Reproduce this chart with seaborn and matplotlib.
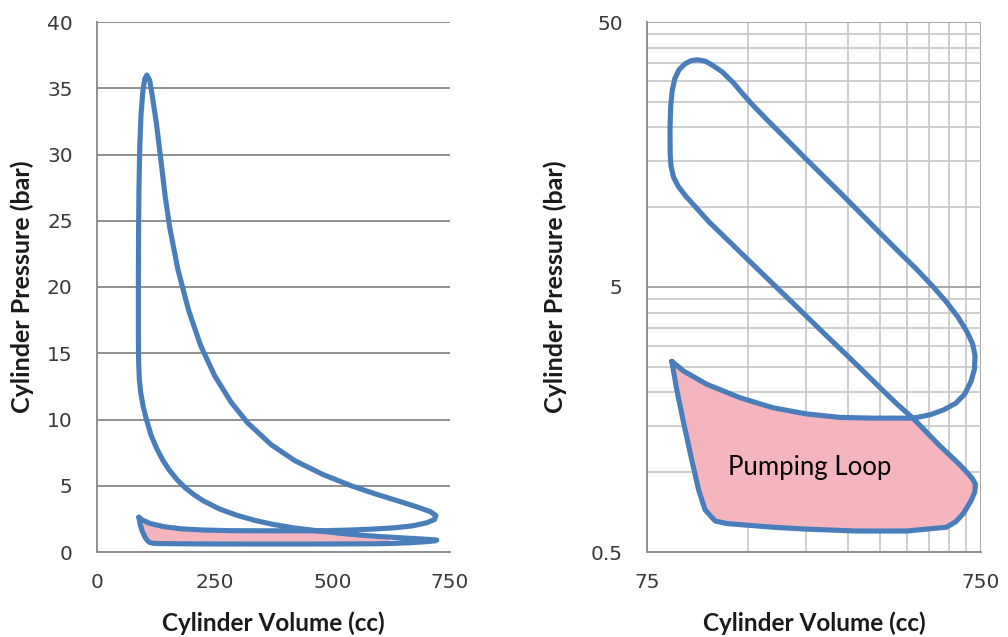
import numpy as np
import pandas as pd
import matplotlib
matplotlib.use("Agg")
import matplotlib.pyplot as plt
import seaborn as sns
from matplotlib.ticker import FixedLocator, FixedFormatter, NullFormatter
from matplotlib.patches import Rectangle

# ---------------- data ----------------
# Intake stroke: TDC -> BDC
intake_v = [89, 92, 96.5, 102, 107, 112, 120, 130, 179, 225, 318, 449, 591, 630, 665, 700, 718, 722]
intake_p = [2.62, 2.06, 1.54, 1.12, 0.86, 0.72, 0.655, 0.64, 0.62, 0.61, 0.60, 0.60, 0.62, 0.65, 0.70, 0.78, 0.84, 0.90]

# Compression stroke: BDC -> TDC
compression_v = [712, 700, 680, 647, 600, 564, 520, 469, 420, 373, 335, 297, 260, 225,
                 205, 188, 170, 153, 140, 127, 115, 105, 98, 93, 90, 88.5]
compression_p = [0.93, 0.96, 1.00, 1.07, 1.17, 1.26, 1.40, 1.60, 1.81, 2.09, 2.39, 2.77, 3.25, 3.88,
                 4.35, 4.83, 5.46, 6.21, 6.92, 7.8, 8.8, 10.0, 11.0, 12.0, 13.0, 14.3]

# Combustion near TDC
combustion_v = [88.0, 87.9, 88.3, 89.2, 90.8, 93.5, 97.5, 101.5, 106]
combustion_p = [15.8, 20.0, 24.0, 27.5, 30.5, 33.0, 34.8, 35.7, 36.0]

# Expansion stroke: TDC -> BDC, then blowdown
expansion_v = [112, 118, 126, 136, 145, 155, 172, 195, 220, 250, 285, 320, 370, 420, 480, 540,
               590, 640, 680, 708, 720, 717, 700, 670, 630, 580, 530]
expansion_p = [35.6, 34.3, 32.4, 29.5, 26.8, 24.4, 21.3, 18.2, 15.6, 13.3, 11.3, 9.75, 8.1, 6.9, 5.85, 5.0,
               4.4, 3.85, 3.4, 3.05, 2.75, 2.45, 2.2, 1.97, 1.82, 1.72, 1.65]

# Exhaust stroke: BDC -> TDC
exhaust_v = [495, 469, 449, 357, 284, 225, 179, 142.5, 113, 96.5, 89]
exhaust_p = [1.62, 1.60, 1.60, 1.60, 1.61, 1.66, 1.75, 1.91, 2.15, 2.41, 2.62]

x_ticks_lin = [0, 250, 500, 750]
y_ticks_lin = [0, 5, 10, 15, 20, 25, 30, 35, 40]
x_ticks_log = [75, 750]
y_ticks_log = [0.5, 5, 50]
x_minor_log = [150, 225, 300, 375, 450, 525, 600, 675]
y_minor_log = [1, 1.5, 2, 2.5, 3, 3.5, 4, 4.5, 10, 15, 20, 25, 30, 35, 40, 45]

# ---------------- assemble ----------------
vol = intake_v + compression_v + combustion_v + expansion_v + exhaust_v
pres = intake_p + compression_p + combustion_p + expansion_p + exhaust_p
cycle = pd.DataFrame({"volume": vol, "pressure": pres, "order": np.arange(len(vol))})

# pumping loop: intake + compression up to the crossing + exhaust from crossing
k_c = compression_v.index(469)
k_e = exhaust_v.index(469)
pump_v = intake_v + compression_v[:k_c + 1] + exhaust_v[k_e:]
pump_p = intake_p + compression_p[:k_c + 1] + exhaust_p[k_e:]

BLUE = "#4a7ebb"
PINK = "#f5b5be"
GRID = "#8f8f8f"
TXT = "#3a3a3a"

sns.set_theme(style="white")
plt.rcParams["font.family"] = ["DejaVu Sans"]

fig = plt.figure(figsize=(10.08, 6.37), dpi=100)
ax1 = fig.add_axes([97 / 1008, 1 - 552 / 637, 353 / 1008, 530 / 637])
ax2 = fig.add_axes([647 / 1008, 1 - 552 / 637, 334 / 1008, 530 / 637])
ax2.set_xscale("log")
ax2.set_yscale("log")

for ax in (ax1, ax2):
    polys = ax.fill(pump_v, pump_p, color=PINK, zorder=2, lw=0)
    if ax is ax1:
        clip = Rectangle((0, 0), 620, 40, transform=ax.transData)
        for pg in polys:
            pg.set_clip_path(clip)
    sns.lineplot(data=cycle, x="volume", y="pressure", sort=False, estimator=None,
                 ax=ax, color=BLUE, lw=3.7, zorder=3,
                 solid_joinstyle="round", solid_capstyle="round")

# ---- left (linear) axes ----
ax1.set_xlim(0, 750)
ax1.set_ylim(0, 40)
ax1.set_xticks(x_ticks_lin)
ax1.set_yticks(y_ticks_lin)
ax1.grid(axis="y", color=GRID, lw=1.4)
ax1.grid(axis="x", visible=False)
for s in ("top", "right"):
    ax1.spines[s].set_visible(False)
for s in ("left", "bottom"):
    ax1.spines[s].set_color(GRID)
    ax1.spines[s].set_linewidth(1.4)

# ---- right (log) axes ----
ax2.set_xlim(75, 750)
ax2.set_ylim(0.5, 50)
ax2.xaxis.set_major_locator(FixedLocator(x_ticks_log))
ax2.xaxis.set_major_formatter(FixedFormatter([str(v) for v in x_ticks_log]))
ax2.xaxis.set_minor_locator(FixedLocator(x_minor_log))
ax2.xaxis.set_minor_formatter(NullFormatter())
ax2.yaxis.set_major_locator(FixedLocator(y_ticks_log))
ax2.yaxis.set_major_formatter(FixedFormatter([str(v) for v in y_ticks_log]))
ax2.yaxis.set_minor_locator(FixedLocator(y_minor_log))
ax2.yaxis.set_minor_formatter(NullFormatter())
ax2.grid(which="major", color="#a0a0a0", lw=1.3)
ax2.grid(which="minor", color="#c6c6c6", lw=1.2)
for s in ("top", "right"):
    ax2.spines[s].set_visible(False)
for s in ("left", "bottom"):
    ax2.spines[s].set_color(GRID)
    ax2.spines[s].set_linewidth(1.4)
ax2.tick_params(axis="both", which="minor", length=0)
ax2.text(230, 1.04, "Pumping Loop", ha="center", va="center", fontsize=18.5,
         family="Lato", color="black", zorder=4)

for ax in (ax1, ax2):
    ax.tick_params(axis="both", which="major", direction="out", width=1.4, color=GRID,
                   labelsize=14.5, labelcolor=TXT)
    ax.tick_params(axis="x", which="major", length=5, pad=10)
    ax.tick_params(axis="y", which="major", length=6.5, pad=11)
    ax.set_xlabel("Cylinder Volume (cc)", family="Lato", fontweight="bold",
                  fontsize=17.5, color="#1a1a1a")
    ax.set_ylabel("Cylinder Pressure (bar)", family="Lato", fontweight="bold",
                  fontsize=18, color="#1a1a1a")
    ax.set_facecolor("white")

ax1.xaxis.set_label_coords(0.5, -0.112)
ax2.xaxis.set_label_coords(0.5, -0.112)
ax1.yaxis.set_label_coords(-0.178, 0.5)
ax2.yaxis.set_label_coords(-0.24, 0.5)

fig.savefig("out.png", dpi=100, facecolor="white")
